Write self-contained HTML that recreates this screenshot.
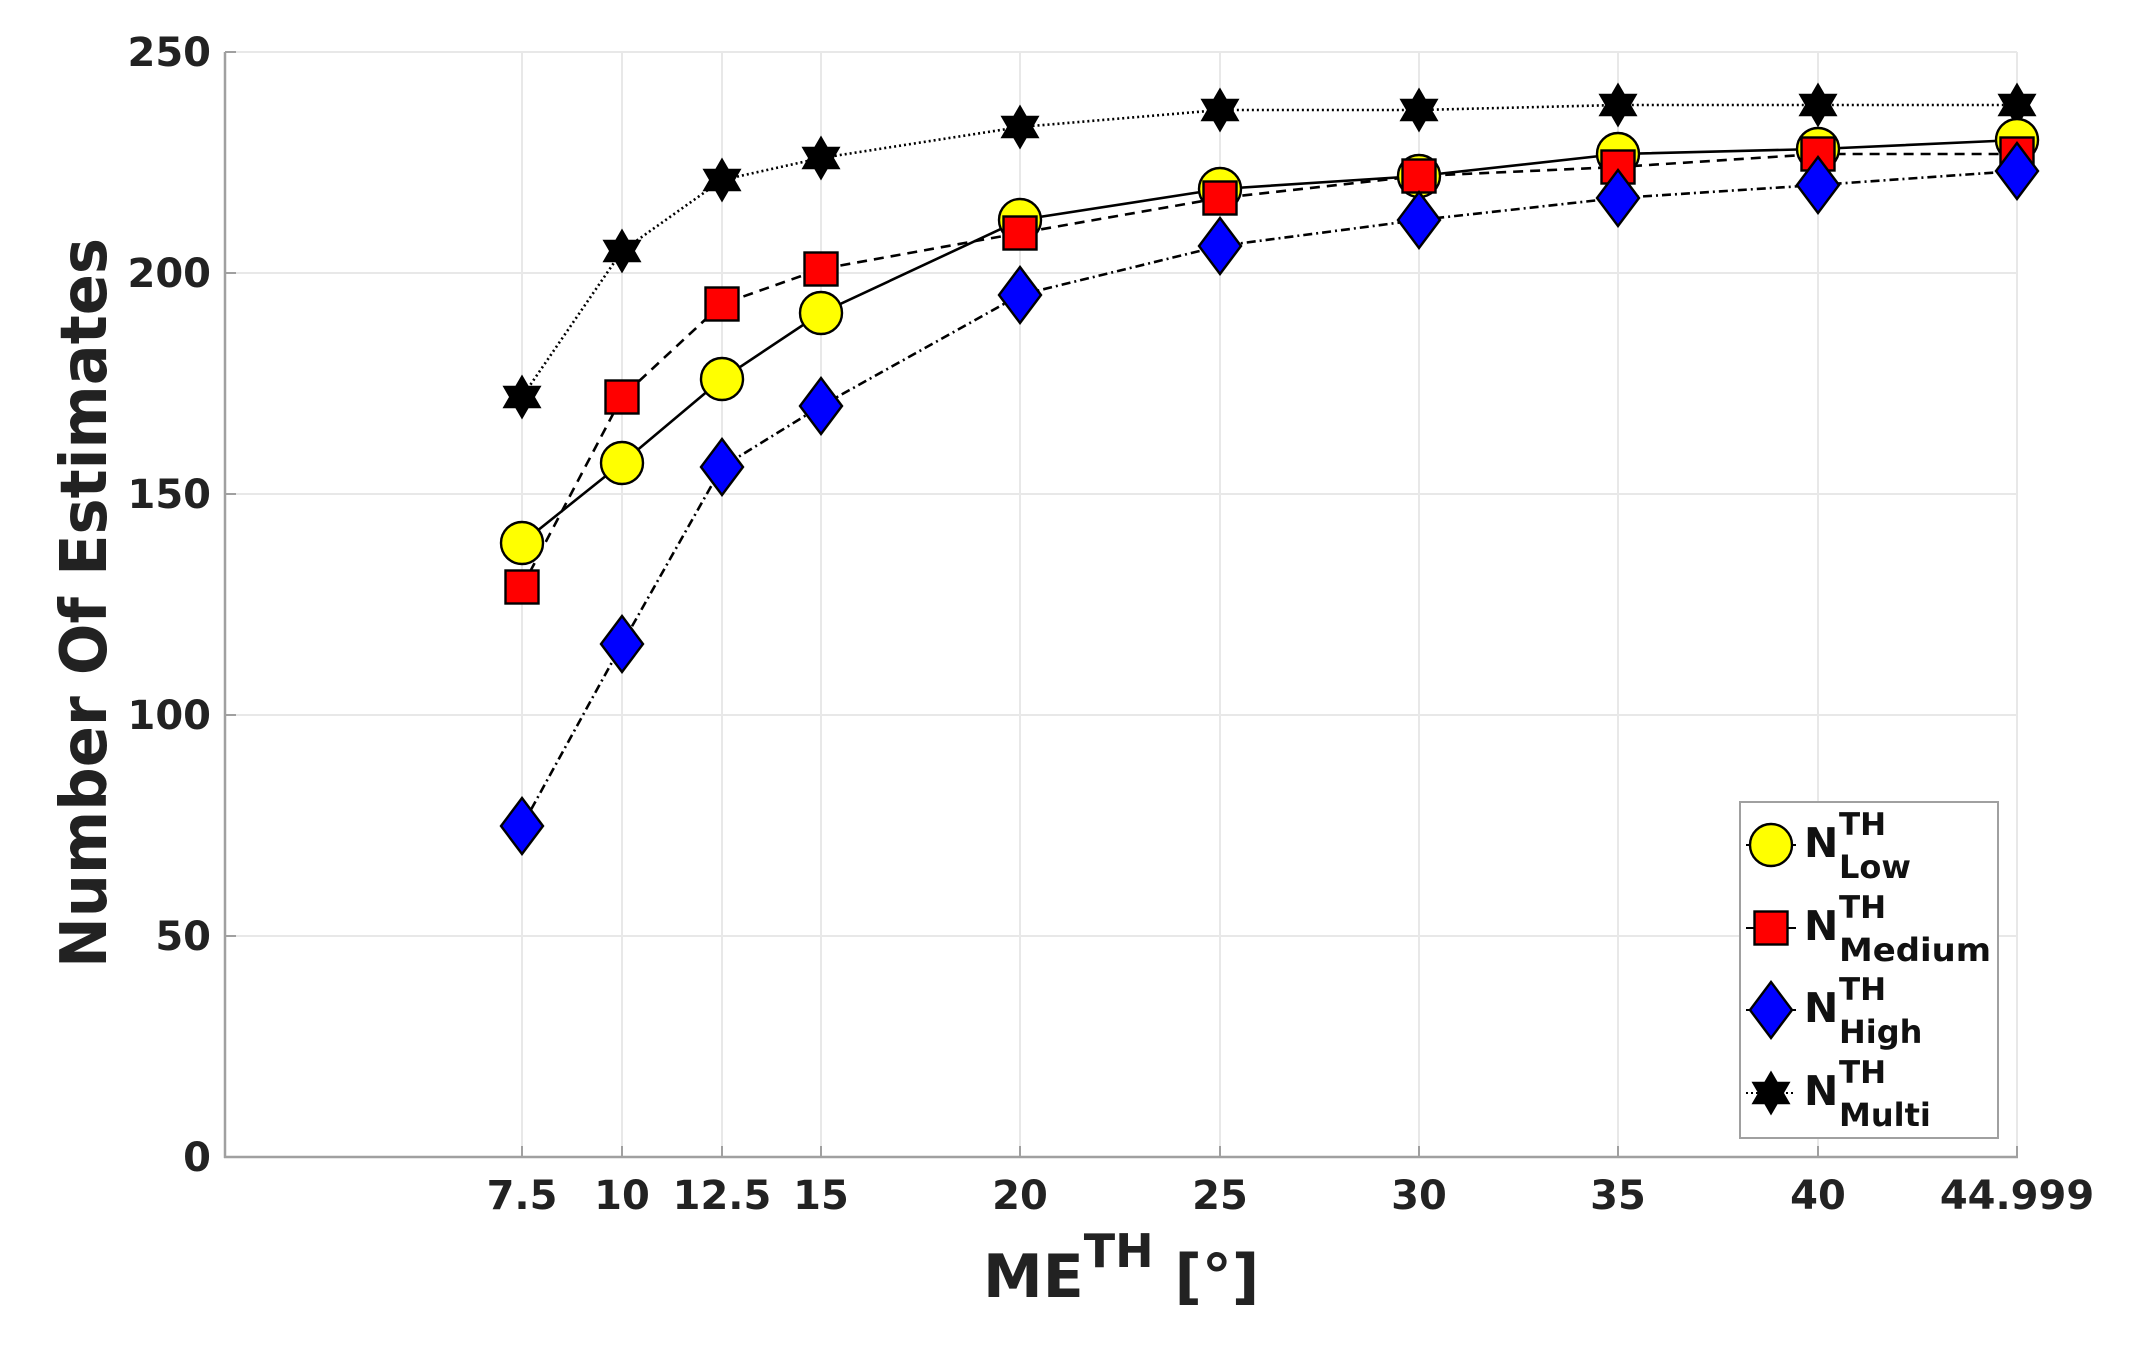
<!DOCTYPE html>
<html><head><meta charset="utf-8"><style>body{margin:0;background:#fff}svg{display:block}</style></head><body>
<svg width="2138" height="1356" viewBox="0 0 2138 1356" xmlns="http://www.w3.org/2000/svg" font-family="'DejaVu Sans', 'Liberation Sans', sans-serif" font-weight="bold">
<defs>
<path id="star" d="M0,-21 L6.1,-10.5 L18.2,-10.5 L12.1,0 L18.2,10.5 L6.1,10.5 L0,21 L-6.1,10.5 L-18.2,10.5 L-12.1,0 L-18.2,-10.5 L-6.1,-10.5 Z" fill="#000" stroke="#000" stroke-width="1.5"/>
<circle id="circ" r="21" fill="#ffff00" stroke="#000" stroke-width="2.4"/>
<rect id="sq" x="-16.5" y="-16.5" width="33" height="33" fill="#ff0000" stroke="#000" stroke-width="2.4"/>
<path id="dia" d="M0,-28 L21,0 L0,28 L-21,0 Z" fill="#0000ff" stroke="#000" stroke-width="2.4"/>
</defs>
<g stroke="#e8e8e8" stroke-width="2">
<line x1="225" y1="52" x2="2017" y2="52"/><line x1="225" y1="273" x2="2017" y2="273"/><line x1="225" y1="494" x2="2017" y2="494"/><line x1="225" y1="715" x2="2017" y2="715"/><line x1="225" y1="936" x2="2017" y2="936"/>
<line x1="522" y1="52" x2="522" y2="1157"/><line x1="622" y1="52" x2="622" y2="1157"/><line x1="722" y1="52" x2="722" y2="1157"/><line x1="821" y1="52" x2="821" y2="1157"/><line x1="1020" y1="52" x2="1020" y2="1157"/><line x1="1220" y1="52" x2="1220" y2="1157"/><line x1="1419" y1="52" x2="1419" y2="1157"/><line x1="1618" y1="52" x2="1618" y2="1157"/><line x1="1818" y1="52" x2="1818" y2="1157"/><line x1="2017" y1="52" x2="2017" y2="1157"/>
</g>
<g stroke="#a0a0a0" stroke-width="2.5">
<line x1="225" y1="52" x2="225" y2="1158"/><line x1="224" y1="1157" x2="2018" y2="1157"/>
</g>
<g stroke="#a0a0a0" stroke-width="2">
<line x1="225" y1="52" x2="236" y2="52"/><line x1="225" y1="273" x2="236" y2="273"/><line x1="225" y1="494" x2="236" y2="494"/><line x1="225" y1="715" x2="236" y2="715"/><line x1="225" y1="936" x2="236" y2="936"/>
<line x1="522" y1="1157" x2="522" y2="1146"/><line x1="622" y1="1157" x2="622" y2="1146"/><line x1="722" y1="1157" x2="722" y2="1146"/><line x1="821" y1="1157" x2="821" y2="1146"/><line x1="1020" y1="1157" x2="1020" y2="1146"/><line x1="1220" y1="1157" x2="1220" y2="1146"/><line x1="1419" y1="1157" x2="1419" y2="1146"/><line x1="1618" y1="1157" x2="1618" y2="1146"/><line x1="1818" y1="1157" x2="1818" y2="1146"/><line x1="2017" y1="1157" x2="2017" y2="1146"/>
</g>
<g font-size="40" fill="#222" text-anchor="end">
<text x="211" y="66">250</text><text x="211" y="287">200</text><text x="211" y="508">150</text><text x="211" y="729">100</text><text x="211" y="950">50</text><text x="211" y="1171">0</text>
</g>
<g font-size="40" fill="#222" text-anchor="middle">
<text x="522" y="1209">7.5</text><text x="622" y="1209">10</text><text x="722" y="1209">12.5</text><text x="821" y="1209">15</text><text x="1020" y="1209">20</text><text x="1220" y="1209">25</text><text x="1419" y="1209">30</text><text x="1618" y="1209">35</text><text x="1818" y="1209">40</text><text x="2017" y="1209">44.999</text>
</g>
<text transform="translate(106,603) rotate(-90)" font-size="64" fill="#222" text-anchor="middle" textLength="730" lengthAdjust="spacingAndGlyphs">Number Of Estimates</text>
<text x="983" y="1297" font-size="60" fill="#222">ME<tspan font-size="46" dy="-30">TH</tspan><tspan font-size="60" dy="30"> [°]</tspan></text>
<g fill="none" stroke="#000" stroke-width="2.6">
<polyline stroke-dasharray="2,3" points="522,397 622,251 722,180 821,158 1020,127 1220,110 1419,110 1618,105 1818,105 2017,105"/>
<polyline points="522,543 622,463 722,379 821,313 1020,220 1220,189 1419,176 1618,154 1818,149 2017,140"/>
<polyline stroke-dasharray="10,7" points="522,587 622,397 722,304 821,269 1020,233 1220,198 1419,176 1618,167 1818,154 2017,154"/>
<polyline stroke-dasharray="9,4,2,4" points="522,826 622,644 722,467 821,406 1020,295 1220,246 1419,220 1618,198 1818,185 2017,171"/>
</g>
<g>
<use href="#star" x="522" y="397"/><use href="#star" x="622" y="251"/><use href="#star" x="722" y="180"/><use href="#star" x="821" y="158"/><use href="#star" x="1020" y="127"/><use href="#star" x="1220" y="110"/><use href="#star" x="1419" y="110"/><use href="#star" x="1618" y="105"/><use href="#star" x="1818" y="105"/><use href="#star" x="2017" y="105"/>
<use href="#circ" x="522" y="543"/><use href="#circ" x="622" y="463"/><use href="#circ" x="722" y="379"/><use href="#circ" x="821" y="313"/><use href="#circ" x="1020" y="220"/><use href="#circ" x="1220" y="189"/><use href="#circ" x="1419" y="176"/><use href="#circ" x="1618" y="154"/><use href="#circ" x="1818" y="149"/><use href="#circ" x="2017" y="140"/>
<use href="#sq" x="522" y="587"/><use href="#sq" x="622" y="397"/><use href="#sq" x="722" y="304"/><use href="#sq" x="821" y="269"/><use href="#sq" x="1020" y="233"/><use href="#sq" x="1220" y="198"/><use href="#sq" x="1419" y="176"/><use href="#sq" x="1618" y="167"/><use href="#sq" x="1818" y="154"/><use href="#sq" x="2017" y="154"/>
<use href="#dia" x="522" y="826"/><use href="#dia" x="622" y="644"/><use href="#dia" x="722" y="467"/><use href="#dia" x="821" y="406"/><use href="#dia" x="1020" y="295"/><use href="#dia" x="1220" y="246"/><use href="#dia" x="1419" y="220"/><use href="#dia" x="1618" y="198"/><use href="#dia" x="1818" y="185"/><use href="#dia" x="2017" y="171"/>
</g>
<rect x="1740" y="802" width="258" height="336" fill="#fff" stroke="#a0a0a0" stroke-width="2"/>
<g stroke="#000" stroke-width="2">
<line x1="1746" y1="845" x2="1796" y2="845"/><line x1="1746" y1="928" x2="1796" y2="928"/><line x1="1746" y1="1010" x2="1796" y2="1010"/><line x1="1746" y1="1093" x2="1796" y2="1093" stroke-dasharray="2,3"/>
</g>
<use href="#circ" x="1771" y="845"/><use href="#sq" x="1771" y="928"/><use href="#dia" x="1771" y="1010"/><use href="#star" x="1771" y="1093"/>
<g fill="#111">
<text x="1804" y="857" font-size="41">N</text><text x="1839" y="835" font-size="31">TH</text><text x="1839" y="878" font-size="32">Low</text>
<text x="1804" y="940" font-size="41">N</text><text x="1839" y="918" font-size="31">TH</text><text x="1839" y="961" font-size="32" textLength="152" lengthAdjust="spacingAndGlyphs">Medium</text>
<text x="1804" y="1022" font-size="41">N</text><text x="1839" y="1000" font-size="31">TH</text><text x="1839" y="1043" font-size="32">High</text>
<text x="1804" y="1105" font-size="41">N</text><text x="1839" y="1083" font-size="31">TH</text><text x="1839" y="1126" font-size="32">Multi</text>
</g>
</svg>
</body></html>
